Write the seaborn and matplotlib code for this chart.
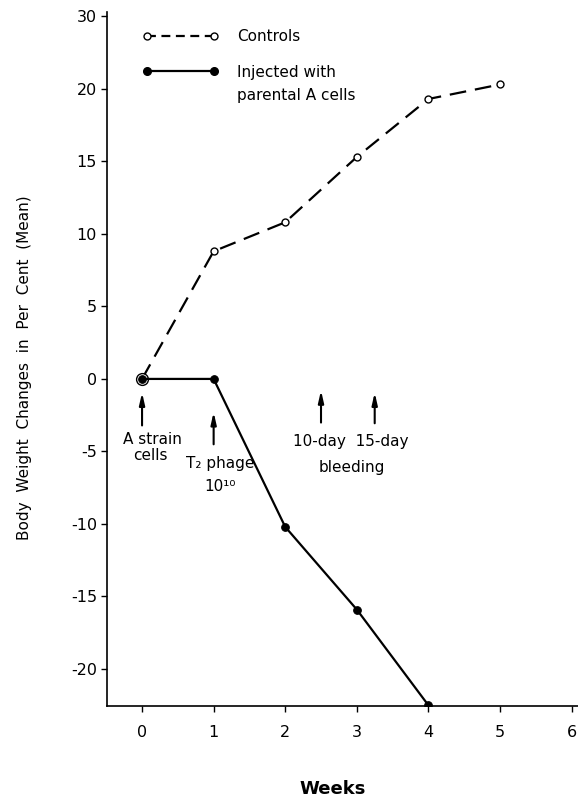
import matplotlib
matplotlib.use("Agg")
import matplotlib.pyplot as plt
import seaborn as sns
import pandas as pd

# ---- data ----
weeks_controls = [0, 1, 2, 3, 4, 5]
controls = [0.0, 8.8, 10.8, 15.3, 19.3, 20.3]
weeks_injected = [0, 1, 2, 3, 4]
injected = [0.0, 0.0, -10.2, -15.9, -22.5]

x_ticks = [0, 1, 2, 3, 4, 5, 6]
y_tick_pos = [-20, -15, -10, -5, 0, 5, 10, 15, 20, 25]
y_tick_labels = ["-20", "-15", "-10", "-5", "0", "5", "10", "15", "20", "30"]

label_controls = "Controls"
label_injected_1 = "Injected with"
label_injected_2 = "parental A cells"

sns.set_style("ticks")
plt.rcParams['font.family'] = ['DejaVu Sans']
plt.rcParams['text.color'] = 'black'
plt.rcParams['xtick.color'] = 'black'
plt.rcParams['ytick.color'] = 'black'
plt.rcParams['axes.edgecolor'] = 'black'

fig = plt.figure(figsize=(5.78, 7.98), dpi=100)
ax = fig.add_axes([0.1857, 0.1153, 0.8143, 0.8697])

df_c = pd.DataFrame({"week": weeks_controls, "val": controls})
df_i = pd.DataFrame({"week": weeks_injected, "val": injected})

sns.lineplot(data=df_c, x="week", y="val", ax=ax, color="black", lw=1.6,
             linestyle="--", marker="o", markersize=7, markerfacecolor="white",
             markeredgecolor="black", markeredgewidth=1.0, label=label_controls,
             zorder=3)
sns.lineplot(data=df_i, x="week", y="val", ax=ax, color="black", lw=1.6,
             marker="o", markersize=5.5, markerfacecolor="black",
             markeredgecolor="black", label=label_injected_1, zorder=4)
ax.lines[0].set_dashes([7.5, 4])
ax.lines[0].set_markersize(5)
# ring around the shared starting point
ax.lines[0].set_markevery([1, 2, 3, 4, 5])
ax.plot(weeks_controls[:1], controls[:1], marker="o", markersize=8.5,
        markerfacecolor="white", markeredgecolor="black", markeredgewidth=1.0,
        linestyle="none", zorder=3.5)

ax.set_xlim(-0.485, 6.09)
ax.set_ylim(-22.55, 25.3)
ax.set_xticks(x_ticks)
ax.set_yticks(y_tick_pos)
ax.set_yticklabels(y_tick_labels)
ax.tick_params(axis="both", labelsize=11.5, length=4, width=1, direction="out",
               colors="black")
ax.tick_params(axis="x", pad=10)
for s in ["top", "right"]:
    ax.spines[s].set_visible(False)
for s in ["left", "bottom"]:
    ax.spines[s].set_linewidth(1.2)

ax.set_xlabel("")
ax.set_ylabel("")

from matplotlib.lines import Line2D
h_c = Line2D([], [], color="black", lw=1.6, dashes=[4, 2.5], marker="o",
             markersize=5, markerfacecolor="white", markeredgecolor="black")
h_i = Line2D([], [], color="black", lw=1.6, marker="o", markersize=5.5,
             markerfacecolor="black", markeredgecolor="black")
leg = ax.legend([h_c, h_i], [label_controls, label_injected_1],
                loc="upper left", bbox_to_anchor=(0.045, 0.995), frameon=False,
                handlelength=5.0, handletextpad=1.2, labelspacing=1.35,
                fontsize=11, numpoints=2)
ax.text(0.276, 0.880, label_injected_2, transform=ax.transAxes,
        ha="left", va="center", fontsize=11)

# arrows
arrow_kw = dict(arrowstyle="-|>,head_length=0.7,head_width=0.16", color="black", lw=1.5)
ax.annotate("", xy=(0, -0.75), xytext=(0, -3.4), arrowprops=arrow_kw)
ax.annotate("", xy=(1, -2.1), xytext=(1, -4.7), arrowprops=arrow_kw)
ax.annotate("", xy=(2.5, -0.6), xytext=(2.5, -3.2), arrowprops=arrow_kw)
ax.annotate("", xy=(3.25, -0.75), xytext=(3.25, -3.25), arrowprops=arrow_kw)

ax.text(0.15, -4.2, "A strain", ha="center", va="center", fontsize=11)
ax.text(0.12, -5.3, "cells", ha="center", va="center", fontsize=11)
ax.text(1.09, -5.8, "T₂ phage", ha="center", va="center", fontsize=11)
ax.text(1.09, -7.45, "10¹⁰", ha="center", va="center", fontsize=11)
ax.text(2.91, -4.3, "10-day  15-day", ha="center", va="center", fontsize=11)
ax.text(2.93, -6.1, "bleeding", ha="center", va="center", fontsize=11)

fig.text(25 / 578, 1 - 368 / 798, "Body  Weight  Changes  in  Per  Cent  (Mean)",
         rotation=90, ha="center", va="center", fontsize=11)
fig.text(333 / 578, 1 - 789 / 798, "Weeks", ha="center", va="center",
         fontsize=13, fontweight="bold")

fig.savefig("out.png", dpi=100)
